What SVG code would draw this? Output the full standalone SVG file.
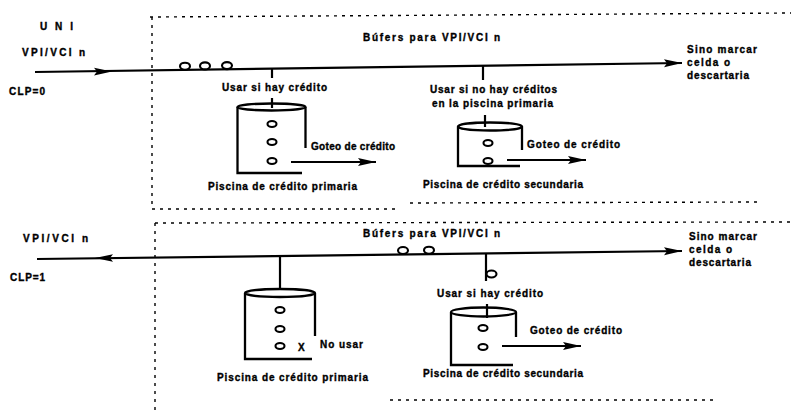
<svg xmlns="http://www.w3.org/2000/svg" width="791" height="412" viewBox="0 0 791 412">
<style>
text{font-family:"Liberation Sans",Arial,sans-serif;font-weight:bold;font-size:10px;fill:#000;stroke:#000;stroke-width:0.35}
.ln{stroke:#000;stroke-width:2.2;fill:none}
.cyl{stroke:#000;stroke-width:2.3;fill:none}
.cell{stroke:#000;stroke-width:2.1;fill:#fff}
.box{stroke:#000;stroke-width:1.4;fill:none;stroke-dasharray:3 5}
</style>
<defs>
<marker id="ah" markerUnits="userSpaceOnUse" markerWidth="19" markerHeight="10" refX="18" refY="5" orient="auto">
<path d="M0,1 L18,5 L0,9 L3,5 z" fill="#000"/>
</marker>
</defs>
<rect width="791" height="412" fill="#fff"/>

<g id="frames">
<path class="box" d="M150,17 L791,13 M152,17 V209 M152,209 H400 M410,203 L760,202"/>
<path class="box" d="M155,223 L791,222 M155,223 V412 M390,400 H715"/>
</g>

<g id="connectors">
<path class="ln" d="M35,72 L682,63" marker-end="url(#ah)"/>
<polygon points="94,67.8 112,71.6 94,75.4 97,71.6" fill="#000"/>
<path class="ln" d="M272,68.7 V78"/>
<path class="ln" d="M483,65.8 V80"/>
<path class="ln" d="M272,98 V108"/>
<path class="ln" d="M485,115 V127"/>
<path class="ln" d="M291,162 L376,162" marker-end="url(#ah)"/>
<path class="ln" d="M507,160 L586,160" marker-end="url(#ah)"/>

<path class="ln" d="M37,259 L682,251" marker-end="url(#ah)"/>
<polygon points="113,254.2 95,258 113,261.8 110,258" fill="#000"/>
<path class="ln" d="M280,256 V290"/>
<path class="ln" d="M486,253.4 V281"/>
<path class="ln" d="M487,304 V318"/>
<path class="ln" d="M502,346 L581,346" marker-end="url(#ah)"/>
</g>

<g id="uni-label">
<text x="40" y="30" textLength="33" lengthAdjust="spacing">U N I</text>
</g>

<g id="input-clp0">
<text x="22" y="56" textLength="63" lengthAdjust="spacing">VPI/VCI n</text>
<text x="9" y="95" textLength="36" lengthAdjust="spacing">CLP=0</text>
</g>

<g id="buffer-clp0">
<text x="363" y="41" textLength="137" lengthAdjust="spacing">Búfers para VPI/VCI n</text>
<ellipse class="cell" cx="185" cy="66.2" rx="5" ry="3.5"/>
<ellipse class="cell" cx="205" cy="65.9" rx="5" ry="3.5"/>
<ellipse class="cell" cx="227" cy="65.6" rx="5" ry="3.5"/>
</g>

<g id="output-clp0">
<text x="687" y="53" textLength="70" lengthAdjust="spacing">Sino marcar</text>
<text x="687" y="66" textLength="43" lengthAdjust="spacing">celda o</text>
<text x="687" y="79" textLength="62" lengthAdjust="spacing">descartaria</text>
</g>

<g id="primary-pool-clp0">
<text x="222" y="91" textLength="105" lengthAdjust="spacing">Usar si hay crédito</text>
<ellipse class="cyl" cx="271.5" cy="107" rx="34" ry="3.5"/>
<path class="cyl" d="M237.5,107 V173 H302 M305.5,107 V148"/>
<ellipse class="cell" cx="272" cy="124" rx="4.5" ry="3"/>
<ellipse class="cell" cx="272" cy="142" rx="4.5" ry="3"/>
<ellipse class="cell" cx="272" cy="161" rx="4.5" ry="3"/>
<text x="311" y="150" textLength="84" lengthAdjust="spacing">Goteo de crédito</text>
<text x="208" y="190" textLength="149" lengthAdjust="spacing">Piscina de crédito primaria</text>
</g>

<g id="secondary-pool-clp0">
<text x="430" y="93" textLength="127" lengthAdjust="spacing">Usar si no hay créditos</text>
<text x="432" y="107" textLength="121" lengthAdjust="spacing">en la piscina primaria</text>
<ellipse class="cyl" cx="490" cy="126.5" rx="32" ry="4"/>
<path class="cyl" d="M458,126.5 V166 H520 M522,126.5 V150"/>
<ellipse class="cell" cx="488" cy="143" rx="4.5" ry="3"/>
<ellipse class="cell" cx="488" cy="161" rx="4.5" ry="3"/>
<text x="527" y="148" textLength="93" lengthAdjust="spacing">Goteo de crédito</text>
<text x="423" y="188" textLength="160" lengthAdjust="spacing">Piscina de crédito secundaria</text>
</g>

<g id="input-clp1">
<text x="23" y="242" textLength="65" lengthAdjust="spacing">VPI/VCI n</text>
<text x="10" y="281" textLength="35" lengthAdjust="spacing">CLP=1</text>
</g>

<g id="buffer-clp1">
<text x="363" y="237" textLength="137" lengthAdjust="spacing">Búfers para VPI/VCI n</text>
<ellipse class="cell" cx="403" cy="250.5" rx="5" ry="3.5"/>
<ellipse class="cell" cx="429" cy="250.2" rx="5" ry="3.5"/>
</g>

<g id="output-clp1">
<text x="689" y="240" textLength="68" lengthAdjust="spacing">Sino marcar</text>
<text x="689" y="253" textLength="43" lengthAdjust="spacing">celda o</text>
<text x="689" y="266" textLength="62" lengthAdjust="spacing">descartaria</text>
</g>

<g id="primary-pool-clp1">
<ellipse class="cyl" cx="280" cy="293" rx="35" ry="4"/>
<path class="cyl" d="M245,293 V359 H312 M315,293 V336"/>
<ellipse class="cell" cx="280" cy="310" rx="4.5" ry="3"/>
<ellipse class="cell" cx="280" cy="329" rx="4.5" ry="3"/>
<ellipse class="cell" cx="280" cy="346" rx="4.5" ry="3"/>
<text x="298" y="351">X</text>
<text x="320" y="348" textLength="43" lengthAdjust="spacing">No usar</text>
<text x="217" y="381" textLength="151" lengthAdjust="spacing">Piscina de crédito primaria</text>
</g>

<g id="secondary-pool-clp1">
<ellipse class="cell" cx="491.5" cy="274" rx="5" ry="3.5"/>
<text x="437" y="297" textLength="106" lengthAdjust="spacing">Usar si hay crédito</text>
<ellipse class="cyl" cx="483.5" cy="312" rx="32.5" ry="4.5"/>
<path class="cyl" d="M451,312 V365 H513 M516,312 V337"/>
<ellipse class="cell" cx="483" cy="328" rx="4.5" ry="3"/>
<ellipse class="cell" cx="483" cy="347" rx="4.5" ry="3"/>
<text x="530" y="334" textLength="92" lengthAdjust="spacing">Goteo de crédito</text>
<text x="423" y="377" textLength="160" lengthAdjust="spacing">Piscina de crédito secundaria</text>
</g>
</svg>
